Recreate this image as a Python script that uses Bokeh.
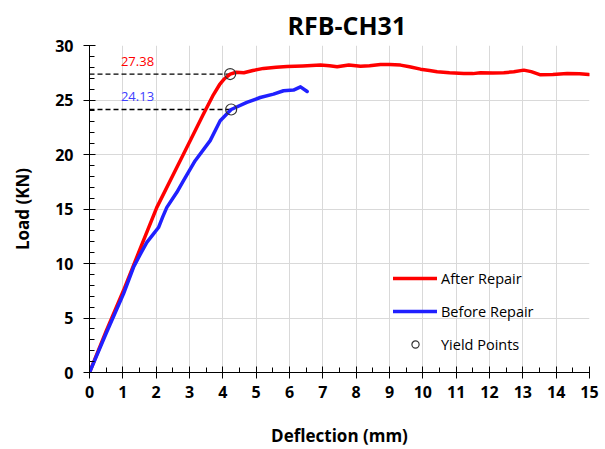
from bokeh.plotting import figure
from bokeh.models import (Range1d, SingleIntervalTicker, Legend, LegendItem,
                          ColumnDataSource)
from bokeh.core.properties import value
from bokeh.embed import file_html
from bokeh.resources import INLINE

# ---------------- data ----------------
after_x = [0, 0.5, 1.02, 1.5, 2.02, 2.72, 3.02, 3.4, 3.72, 3.9, 4.05, 4.22, 4.4, 4.63, 4.9,
           5.22, 5.6, 5.93, 6.4, 6.93, 7.2, 7.43, 7.78, 8.13, 8.4, 8.73, 9.0, 9.33,
           9.6, 9.93, 10.2, 10.43, 10.8, 11.23, 11.5, 11.73, 12.1, 12.43, 12.73,
           13.03, 13.25, 13.53, 13.9, 14.33, 14.7, 14.98]
after_y = [0, 3.8, 7.52, 11.2, 15.15, 19.43, 21.27, 23.6, 25.5, 26.4, 26.95, 27.38, 27.55, 27.5,
           27.7, 27.9, 28.0, 28.08, 28.12, 28.2, 28.15, 28.05, 28.22, 28.1, 28.15,
           28.26, 28.25, 28.2, 28.05, 27.83, 27.7, 27.59, 27.5, 27.43, 27.42, 27.5,
           27.48, 27.5, 27.59, 27.74, 27.6, 27.31, 27.35, 27.43, 27.4, 27.34]

before_x = [0, 0.5, 1.02, 1.32, 1.55, 1.72, 1.92, 2.07, 2.2, 2.32, 2.62, 2.82, 3.17, 3.62, 3.92,
            4.25, 4.72, 5.12, 5.52, 5.82, 6.12, 6.33, 6.53]
before_y = [0, 3.6, 7.21, 9.65, 11.0, 11.94, 12.71, 13.3, 14.3, 15.15, 16.53, 17.6, 19.43, 21.27,
            23.1, 24.13, 24.78, 25.23, 25.54, 25.85, 25.91, 26.21, 25.78]

yield_x = [4.22, 4.25]
yield_y = [27.38, 24.13]
yield_labels = ["27.38", "24.13"]
yield_colors = ["#ff0000", "#4040ff"]

x_ticks_interval = 1
y_ticks_interval = 5

FONT = "Open Sans"

p = figure(frame_width=500, frame_height=327,
           x_range=Range1d(0, 15), y_range=Range1d(0, 30),
           output_backend="svg", toolbar_location=None,
           min_border_left=89, min_border_right=16,
           min_border_top=45, min_border_bottom=77,
           background_fill_color="white", border_fill_color="white")
p.outline_line_color = None

# title
p.title.text = "RFB-CH31"
p.title.text_font = FONT
p.title.text_font_size = "25px"
p.title.text_font_style = "bold"
p.title.text_color = "black"
p.title.align = "left"
p.title.offset = 198
p.title.standoff = 8

# axes
p.xaxis.ticker = SingleIntervalTicker(interval=x_ticks_interval, num_minor_ticks=2)
p.yaxis.ticker = SingleIntervalTicker(interval=y_ticks_interval, num_minor_ticks=5)
for ax in (p.xaxis, p.yaxis):
    ax.axis_line_color = "black"
    ax.axis_line_width = 1
    ax.major_tick_line_color = "black"
    ax.minor_tick_line_color = "black"
    ax.major_tick_in = 6
    ax.major_tick_out = 6
    ax.minor_tick_in = 5
    ax.minor_tick_out = 0
    ax.major_label_text_font = FONT
    ax.major_label_text_font_size = "16px"
    ax.major_label_text_font_style = "bold"
    ax.major_label_text_color = "black"
    ax.axis_label_text_font = FONT
    ax.axis_label_text_font_size = "17px"
    ax.axis_label_text_font_style = "bold"
    ax.axis_label_text_color = "black"
p.yaxis.major_label_standoff = 10
p.xaxis.major_label_standoff = 7

p.xaxis.axis_label = "Deflection (mm)"
p.xaxis.axis_label_standoff = 23
p.yaxis.axis_label = "Load (KN)"
p.yaxis.axis_label_standoff = 18

# grid
p.xgrid.grid_line_color = "#d9d9d9"
p.ygrid.grid_line_color = "#d9d9d9"
p.xgrid.grid_line_width = 1
p.ygrid.grid_line_width = 1

# dashed guide lines to yield points
p.segment(x0=[0] * len(yield_x), y0=yield_y, x1=yield_x, y1=yield_y,
          line_color="black", line_width=1.3, line_dash="5 3")

r_after = p.line(after_x, after_y, line_color="#ff0000", line_width=3.5,
                 line_join="round", line_cap="round")
r_before = p.line(before_x, before_y, line_color="#2020ff", line_width=3.5,
                  line_join="round", line_cap="round")

yield_src = ColumnDataSource(dict(x=yield_x, y=yield_y))
r_yield = p.scatter("x", "y", source=yield_src, size=11, marker="circle",
                    fill_color=None, line_color="#333333", line_width=1.2)

lab_src = ColumnDataSource(dict(x=[0] * len(yield_x), y=yield_y,
                                t=yield_labels, c=yield_colors))
p.text(x="x", y="y", text="t", source=lab_src, text_color="c",
       text_font=value(FONT), text_font_size="13px", text_align="center",
       text_baseline="middle", x_offset=48, y_offset=-13)

legend = Legend(items=[LegendItem(label="After Repair", renderers=[r_after]),
                       LegendItem(label="Before Repair", renderers=[r_before]),
                       LegendItem(label="Yield Points", renderers=[r_yield])],
                location=(304, 18), glyph_width=44, glyph_height=18,
                label_height=20, spacing=13, padding=0, margin=0,
                label_standoff=4, border_line_color=None,
                background_fill_alpha=0, label_text_font=FONT,
                label_text_font_size="14.5px", label_text_color="black")
p.add_layout(legend)

open("out.html", "w").write(file_html(p, INLINE))
